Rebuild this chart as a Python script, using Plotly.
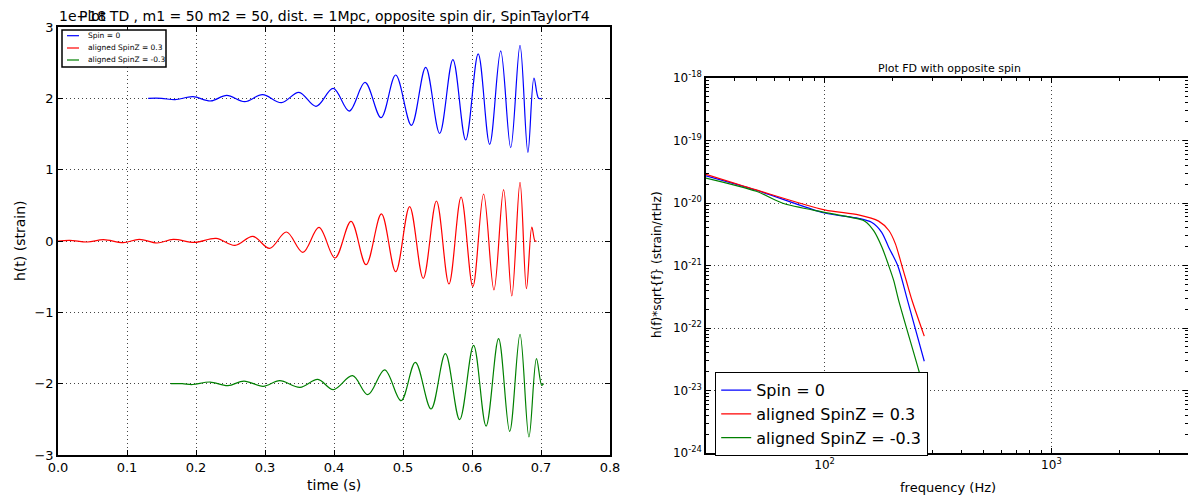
import plotly.graph_objects as go
import math

# ---------------- Time-domain data (values in units of 1e-18) ----------------
t_spin0 = [0.1307, 0.150, 0.1696, 0.1954, 0.2213, 0.2446, 0.2705, 0.2964, 0.3238, 0.3492,
           0.3740, 0.3989, 0.4222, 0.4449, 0.4682, 0.4894, 0.5122, 0.5329, 0.5531, 0.5723,
           0.5909, 0.6090, 0.6256, 0.6416, 0.6561, 0.6696, 0.6810, 0.6898, 0.6965, 0.7010]
h_spin0 = [2.000, 2.000, 1.981, 2.023, 1.963, 2.042, 1.953, 2.051, 1.939, 2.084,
           1.888, 2.140, 1.822, 2.224, 1.729, 2.327, 1.621, 2.435, 1.509, 2.542,
           1.416, 2.622, 1.355, 2.664, 1.308, 2.743, 1.243, 2.285, 2.000, 2.000]

t_pos = [0.0, 0.017, 0.0428, 0.0660, 0.0945, 0.1178, 0.1437, 0.1670, 0.1980, 0.2291,
         0.2565, 0.2824, 0.3067, 0.3311, 0.3549, 0.3782, 0.4014, 0.4247, 0.4465, 0.4687,
         0.4894, 0.5096, 0.5293, 0.5485, 0.5666, 0.5842, 0.6012, 0.6168, 0.6318, 0.6458,
         0.6577, 0.6696, 0.6789, 0.6867, 0.6913, 0.6935]
h_pos = [0.000, 0.010, -0.014, 0.019, -0.023, 0.023, -0.028, 0.023, -0.019, 0.037,
         -0.061, 0.065, -0.103, 0.126, -0.159, 0.192, -0.238, 0.276, -0.332, 0.379,
         -0.430, 0.482, -0.524, 0.561, -0.603, 0.617, -0.641, 0.659, -0.687, 0.720,
         -0.771, 0.823, -0.669, 0.196, 0.000, 0.000]

t_neg = [0.1634, 0.180, 0.195, 0.2203, 0.2462, 0.2695, 0.2974, 0.3212, 0.3507, 0.3766,
         0.3989, 0.4268, 0.4491, 0.4734, 0.4972, 0.5179, 0.5407, 0.5614, 0.5821, 0.6023,
         0.6204, 0.6385, 0.6546, 0.6696, 0.6825, 0.6934, 0.7010, 0.7037]
h_neg = [-2.000, -2.000, -2.012, -1.977, -2.028, -1.963, -2.037, -1.958, -2.051, -1.939,
         -2.084, -1.888, -2.154, -1.808, -2.238, -1.701, -2.355, -1.579, -2.505, -1.462,
         -2.594, -1.369, -2.669, -1.308, -2.748, -1.649, -2.023, -2.000]

# ---------------- Frequency-domain data ----------------
f_spin0 = [30, 50, 100, 141, 161, 178.5, 191.6, 210, 232, 275]
a_spin0 = [2.72e-20, 1.60e-20, 6.92e-21, 5.68e-21, 4.91e-21, 3.40e-21, 1.96e-21, 1.0e-21, 2.77e-22, 2.94e-23]

f_pos = [30, 50, 100, 141, 173, 192, 205, 219, 229, 243, 275]
a_pos = [2.88e-20, 1.62e-20, 7.76e-21, 6.46e-21, 5.13e-21, 3.63e-21, 2.24e-21, 1.0e-21, 5.75e-22, 2.75e-22, 7.41e-23]

f_neg = [30, 50, 65, 100, 141, 151, 164.5, 179, 191.6, 201.6, 212, 260, 275]
a_neg = [2.51e-20, 1.54e-20, 1.0e-20, 7.08e-21, 5.56e-21, 5.08e-21, 3.61e-21, 1.96e-21, 1.0e-21, 5.77e-22, 2.77e-22, 2.11e-23, 1.0e-23]

names = ["Spin = 0", "aligned SpinZ = 0.3", "aligned SpinZ = -0.3"]
colors = ["#0000ff", "#ff0000", "#008000"]

x_ticks = [0.0, 0.1, 0.2, 0.3, 0.4, 0.5, 0.6, 0.7, 0.8]
x_ticktext = ["0.0", "0.1", "0.2", "0.3", "0.4", "0.5", "0.6", "0.7", "0.8"]
y_ticks = [-3, -2, -1, 0, 1, 2, 3]
y_ticktext = ["\u22123", "\u22122", "\u22121", "0", "1", "2", "3"]

f_ticks = [100, 1000]
f_ticktext = ["10<sup>2</sup>", "10<sup>3</sup>"]
a_ticks = [1e-24, 1e-23, 1e-22, 1e-21, 1e-20, 1e-19, 1e-18]
a_ticktext = ["10<sup>-24</sup>", "10<sup>-23</sup>", "10<sup>-22</sup>", "10<sup>-21</sup>",
              "10<sup>-20</sup>", "10<sup>-19</sup>", "10<sup>-18</sup>"]

FONT = "DejaVu Sans"
W, H = 1188, 498

fig = go.Figure()

td = [(t_spin0, h_spin0), (t_pos, h_pos), (t_neg, h_neg)]
for (tx, hy), nm, c in zip(td, names, colors):
    fig.add_trace(go.Scatter(x=tx, y=hy, mode="lines", name=nm, showlegend=False,
                             line=dict(color=c, width=1.2, shape="spline", smoothing=1.0),
                             xaxis="x", yaxis="y"))

fd = [(f_spin0, a_spin0), (f_pos, a_pos), (f_neg, a_neg)]
for (fx, ay), nm, c in zip(fd, names, colors):
    fig.add_trace(go.Scatter(x=fx, y=ay, mode="lines", name=nm, showlegend=True,
                             line=dict(color=c, width=1.2, shape="spline", smoothing=0.8),
                             xaxis="x2", yaxis="y2"))

grid = dict(showgrid=True, gridcolor="#444444", griddash="1px,3px", gridwidth=1)
axline = dict(showline=True, linecolor="black", linewidth=1.5, mirror="ticks",
              ticks="inside", ticklen=5, tickcolor="black", zeroline=False, automargin=False)
minor = dict(ticks="inside", ticklen=3, tickcolor="black", dtick="D1", showgrid=False)

fig.update_layout(
    width=W, height=H,
    margin=dict(l=0, r=0, t=0, b=0, autoexpand=False),
    paper_bgcolor="white", plot_bgcolor="white",
    font=dict(family=FONT, color="black"),
    xaxis=dict(domain=[58 / W, 610 / W], range=[0, 0.8], tickvals=x_ticks, ticktext=x_ticktext,
               anchor="y", tickfont=dict(size=13), **grid, **axline),
    yaxis=dict(domain=[1 - 455 / H, 1 - 27 / H], range=[-3, 3], tickvals=y_ticks, ticktext=y_ticktext,
               anchor="x", tickfont=dict(size=13), **grid, **axline),
    xaxis2=dict(domain=[706 / W, 1.0], type="log", range=[math.log10(30), math.log10(4000)],
                tickvals=f_ticks, ticktext=f_ticktext, anchor="y2", tickfont=dict(size=12),
                minor=minor, **grid, **axline),
    yaxis2=dict(domain=[1 - 453 / H, 1 - 78 / H], type="log", range=[-24, -18],
                tickvals=a_ticks, ticktext=a_ticktext, anchor="x2", tickfont=dict(size=12),
                minor=minor, **grid, **axline),
    legend=dict(x=715 / W, y=1 - 372 / H, xanchor="left", yanchor="top",
                bgcolor="white", bordercolor="black", borderwidth=1.2,
                font=dict(size=16, family=FONT), itemwidth=30, tracegroupgap=0),
)

ann = [
    dict(text="Plot TD , m1 = 50 m2 = 50, dist. = 1Mpc, opposite spin dir, SpinTaylorT4",
         x=334 / W, y=1 - 16 / H, size=14, xanchor="center", angle=0),
    dict(text="1e\u221218", x=57 / W, y=1 - 16 / H, size=14, xanchor="left", angle=0),
    dict(text="h(t) (strain)", x=20 / W, y=1 - 241 / H, size=14, xanchor="center", angle=-90),
    dict(text="time (s)", x=334 / W, y=1 - 485 / H, size=14, xanchor="center", angle=0),
    dict(text="Plot FD with opposite spin", x=949 / W, y=1 - 68 / H, size=11, xanchor="center", angle=0),
    dict(text="h(f)*sqrt{f} (strain/rtHz)", x=657 / W, y=1 - 265 / H, size=12, xanchor="center", angle=-90),
    dict(text="frequency (Hz)", x=948 / W, y=1 - 487 / H, size=13, xanchor="center", angle=0),
]
for a in ann:
    fig.add_annotation(text=a["text"], x=a["x"], y=a["y"], xref="paper", yref="paper",
                       xanchor=a["xanchor"], yanchor="middle", textangle=a["angle"],
                       showarrow=False, font=dict(size=a["size"], family=FONT, color="black"))

# small legend of the time-domain panel (drawn manually to match matplotlib's compact layout)
fig.add_shape(type="rect", xref="paper", yref="paper",
              x0=62 / W, x1=166 / W, y0=1 - 67 / H, y1=1 - 30 / H,
              line=dict(color="black", width=1.5), fillcolor="white", layer="above")
rows = [35.7, 48.0, 60.0]
for nm, c, ry in zip(names, colors, rows):
    fig.add_shape(type="line", xref="paper", yref="paper",
                  x0=67 / W, x1=79 / W, y0=1 - ry / H, y1=1 - ry / H,
                  line=dict(color=c, width=1.2), layer="above")
    fig.add_annotation(text=nm, x=86 / W, y=1 - ry / H, xref="paper", yref="paper",
                       xanchor="left", yanchor="middle", showarrow=False,
                       font=dict(size=7.5, family=FONT, color="black"))

fig.write_html("out.html")
